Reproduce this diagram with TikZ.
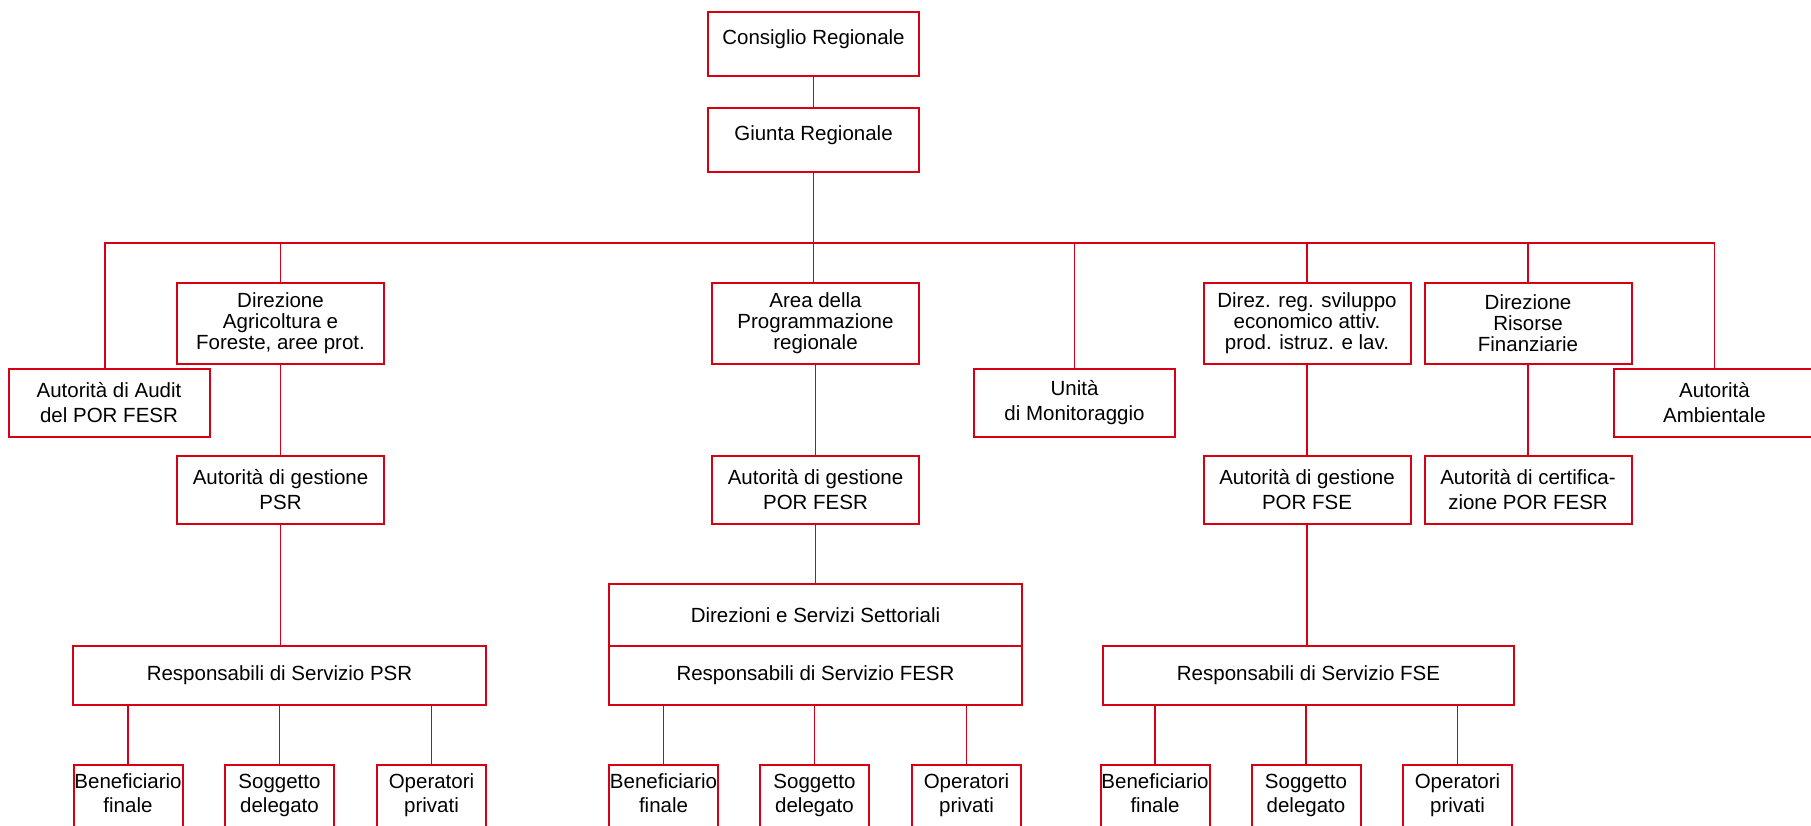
\documentclass[tikz,border=0pt]{standalone}
\usepackage{fontspec}
\setmainfont{Liberation Sans}
\definecolor{orgred}{RGB}{214,0,18}

\begin{document}
\begin{tikzpicture}[x=1pt,y=-1pt,
  box/.style={draw=orgred,line width=2pt,align=center,inner sep=0pt,
    font=\fontsize{20.5}{25}\selectfont},
  topbox/.style={box,minimum width=211pt,minimum height=64pt,text depth=14pt},
  dirbox/.style={box,minimum width=207pt,minimum height=81pt,
    font=\fontsize{20.5}{21}\selectfont},
  authbox/.style={box,minimum width=201pt,minimum height=68pt},
  agbox/.style={box,minimum width=207pt,minimum height=68pt},
  respbox/.style={box,minimum width=413pt,minimum height=59pt},
  leafbox/.style={box,anchor=north,minimum width=109pt,minimum height=66pt,text depth=10pt,
    font=\fontsize{20.5}{24}\selectfont},
  link/.style={orgred,line width=1.6pt}]
  \useasboundingbox (0,0) rectangle (1811,825);

  % vertice
  \node[topbox] (consiglio) at (813.5,44) {Consiglio Regionale};
  \node[topbox] (giunta) at (813.5,140) {Giunta Regionale};

  % direzioni
  \node[dirbox] (dirAgri) at (280.5,323.5) {Direzione\\Agricoltura e\\Foreste, aree prot.};
  \node[dirbox] (area) at (815.5,323.5) {Area della\\Programmazione\\regionale};
  \node[dirbox] (dirSvil) at (1307,323.5) {Direz. reg. sviluppo\\economico attiv.\\prod. istruz. e lav.};
  \node[dirbox] (risorse) at (1528,323.5) {Direzione\\Risorse\\Finanziarie};

  \node[authbox] (audit) at (109,403) {Autorit\`a di Audit\\del POR FESR};
  \node[authbox] (unita) at (1074.5,403) {Unit\`a\\di Monitoraggio};
  \node[authbox] (ambiente) at (1714.5,403) {Autorit\`a\\Ambientale};

  % autorita' di gestione
  \node[agbox] (agPSR) at (280.5,490) {Autorit\`a di gestione\\PSR};
  \node[agbox] (agFESR) at (815.5,490) {Autorit\`a di gestione\\POR FESR};
  \node[agbox] (agFSE) at (1307,490) {Autorit\`a di gestione\\POR FSE};
  \node[agbox] (cert) at (1528,490) {Autorit\`a di certifica-\\zione POR FESR};

  % responsabili
  \node[respbox,minimum height=62pt] (settoriali) at (815.5,615) {Direzioni e Servizi Settoriali};
  \node[respbox] (respFESR) at (815.5,675.5) {Responsabili di Servizio FESR};
  \node[respbox] (respPSR) at (279.5,675.5) {Responsabili di Servizio PSR};
  \node[respbox,minimum width=411pt] (respFSE) at (1308.5,675.5) {Responsabili di Servizio FSE};

  % beneficiari
  \node[leafbox] (benPSR) at (128,764) {Beneficiario\\finale};
  \node[leafbox] (sogPSR) at (279.5,764) {Soggetto\\delegato};
  \node[leafbox] (opPSR) at (431.5,764) {Operatori\\privati};
  \node[leafbox] (benFESR) at (663.5,764) {Beneficiario\\finale};
  \node[leafbox] (sogFESR) at (814.5,764) {Soggetto\\delegato};
  \node[leafbox] (opFESR) at (966.5,764) {Operatori\\privati};
  \node[leafbox] (benFSE) at (1155,764) {Beneficiario\\finale};
  \node[leafbox] (sogFSE) at (1306,764) {Soggetto\\delegato};
  \node[leafbox] (opFSE) at (1457.5,764) {Operatori\\privati};

  % collegamenti
  \coordinate (busL) at (105,243);
  \coordinate (busR) at (1714.5,243);
  \draw[link] (consiglio) -- (giunta);
  \draw[link] (giunta) -- (giunta |- busL);
  \draw[link] (audit.north -| busL) -- (busL) -- (busR) -- (ambiente.north);
  \draw[link] (dirAgri.north) -- (dirAgri.north |- busL);
  \draw[link] (area.north -| giunta) -- (giunta |- busL);
  \draw[link] (unita.north) -- (unita.north |- busL);
  \draw[link] (dirSvil.north) -- (dirSvil.north |- busL);
  \draw[link] (risorse.north) -- (risorse.north |- busL);

  \draw[link] (dirAgri) -- (agPSR);
  \draw[link] (area) -- (agFESR);
  \draw[link] (dirSvil) -- (agFSE);
  \draw[link] (risorse) -- (cert);
  \draw[link] (agPSR.south) -- (agPSR.south |- respPSR.north);
  \draw[link] (agFESR) -- (settoriali);
  \draw[link] (agFSE.south) -- (agFSE.south |- respFSE.north);

  \draw[link] (benPSR.north) -- (benPSR.north |- respPSR.south);
  \draw[link] (sogPSR.north) -- (sogPSR.north |- respPSR.south);
  \draw[link] (opPSR.north) -- (opPSR.north |- respPSR.south);
  \draw[link] (benFESR.north) -- (benFESR.north |- respFESR.south);
  \draw[link] (sogFESR.north) -- (sogFESR.north |- respFESR.south);
  \draw[link] (opFESR.north) -- (opFESR.north |- respFESR.south);
  \draw[link] (benFSE.north) -- (benFSE.north |- respFSE.south);
  \draw[link] (sogFSE.north) -- (sogFSE.north |- respFSE.south);
  \draw[link] (opFSE.north) -- (opFSE.north |- respFSE.south);
\end{tikzpicture}
\end{document}
